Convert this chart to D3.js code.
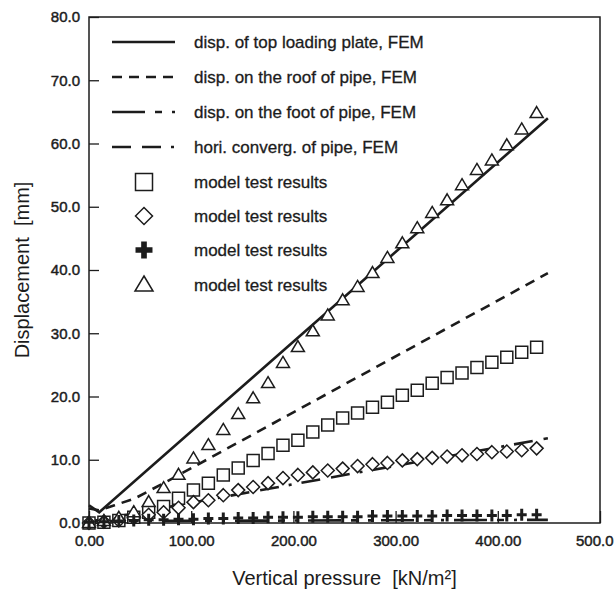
<!DOCTYPE html>
<html><head><meta charset="utf-8">
<script src="https://cdn.jsdelivr.net/npm/d3@7"></script>
<style>body{margin:0;background:#fff}svg{display:block}text{font-family:"Liberation Sans",Arial,sans-serif;fill:#1c1c1c}</style>
</head><body><div id="chart"></div>
<script>
// ---- data ----
const pressure = [0, 14.6, 29.2, 43.8, 58.4, 73, 87.6, 102.2, 116.8, 131.4, 146, 160.6, 175.2, 189.8, 204.4, 219, 233.6, 248.2, 262.8, 277.4, 292, 306.6, 321.2, 335.8, 350.4, 365, 379.6, 394.2, 408.8, 423.4, 438];
const testSquares = [0, 0.1, 0.4, 0.9, 1.7, 2.6, 3.9, 5.2, 6.3, 7.6, 8.7, 9.9, 11.0, 12.3, 13.1, 14.4, 15.5, 16.6, 17.4, 18.3, 19.1, 20.2, 21.0, 22.1, 23.0, 23.7, 24.6, 25.4, 26.2, 27.0, 27.8];
const testDiamonds = [0, 0.2, 0.4, 0.8, 1.3, 1.7, 2.4, 3.3, 3.6, 4.4, 5.2, 5.7, 6.3, 7.1, 7.6, 8.0, 8.3, 8.6, 9.0, 9.3, 9.5, 9.9, 10.1, 10.3, 10.5, 10.7, 10.9, 11.2, 11.3, 11.5, 11.8];
const testCrosses = [0.1, 0.2, 0.3, 0.4, 0.5, 0.5, 0.6, 0.6, 0.7, 0.7, 0.8, 0.8, 0.9, 0.9, 0.9, 1.0, 1.0, 1.0, 1.0, 1.1, 1.1, 1.1, 1.1, 1.1, 1.2, 1.2, 1.2, 1.2, 1.2, 1.3, 1.3];
const testTriangles = [0, 0.3, 0.8, 1.7, 3.3, 5.5, 7.6, 10.2, 12.3, 14.7, 17.2, 19.7, 22.1, 25.3, 27.8, 30.3, 32.8, 35.2, 37.3, 39.5, 41.9, 44.2, 46.6, 49.0, 51.0, 53.4, 55.8, 57.3, 59.7, 62.2, 64.8];

const topPlateX = [0, 10, 449];
const topPlateY = [2.8, 1.7, 64.0];
const roofX = [0, 10, 25, 45, 80, 449];
const roofY = [2.3, 2.0, 2.8, 3.9, 6.9, 39.5];
const footX = [0, 449];
const footY = [0.3, 0.5];
const horiX = [0, 50, 100, 449];
const horiY = [0.2, 1.7, 3.2, 13.4];

const xTicks = [0, 100, 200, 300, 400, 500];
const xTickLabels = ["0.00", "100.00", "200.00", "300.00", "400.00", "500.0"];
const yTicks = [0, 10, 20, 30, 40, 50, 60, 70, 80];
const yTickLabels = ["0.0", "10.0", "20.0", "30.0", "40.0", "50.0", "60.0", "70.0", "80.0"];

const legendLabels = ["disp. of top loading plate, FEM", "disp. on the roof of pipe, FEM", "disp. on the foot of pipe, FEM", "hori. converg. of pipe, FEM", "model test results", "model test results", "model test results", "model test results"];

// ---- layout ----
const W = 615, H = 589;
const L = 89, R = 600, T = 17, B = 523;
const ink = "#1c1c1c";
const svg = d3.select("#chart").append("svg").attr("width", W).attr("height", H);
const x = d3.scaleLinear().domain([0, 500]).range([L, R]);
const y = d3.scaleLinear().domain([0, 80]).range([B, T]);

// frame
svg.append("rect").attr("x", L).attr("y", T).attr("width", R - L).attr("height", B - T)
  .attr("fill", "none").attr("stroke", ink).attr("stroke-width", 1.5);

// axes
const yAxis = d3.axisLeft(y).tickValues(yTicks).tickFormat((d, i) => yTickLabels[i]).tickSizeInner(-10).tickSizeOuter(0).tickPadding(9);
const gy = svg.append("g").attr("transform", `translate(${L},0)`).call(yAxis);
gy.select(".domain").remove();
gy.selectAll("line").attr("stroke", ink).attr("stroke-width", 1.3);
gy.selectAll("text").attr("font-size", 15).attr("fill", ink).attr("stroke", ink).attr("stroke-width", 0.45)
  .attr("font-family", "Liberation Sans, Arial, sans-serif");

const xAxis = d3.axisBottom(x).tickValues(xTicks).tickFormat((d, i) => xTickLabels[i]).tickSizeInner(-12).tickSizeOuter(0).tickPadding(12);
const gx = svg.append("g").attr("transform", `translate(0,${B})`).call(xAxis);
gx.select(".domain").remove();
gx.selectAll("line").attr("stroke", ink).attr("stroke-width", 1.3);
gx.selectAll("text").attr("font-size", 15).attr("fill", ink).attr("stroke", ink).attr("stroke-width", 0.45)
  .attr("font-family", "Liberation Sans, Arial, sans-serif")
  .filter((d, i) => i === xTicks.length - 1).attr("text-anchor", "end").attr("x", 613 - x(500));

// titles
svg.append("text").attr("x", (L + R) / 2).attr("y", 585).attr("text-anchor", "middle")
  .attr("font-size", 20).attr("xml:space", "preserve").text("Vertical pressure  [kN/m²]");
svg.append("text").attr("transform", `translate(29,${(T + B) / 2}) rotate(-90)`).attr("text-anchor", "middle")
  .attr("font-size", 20).attr("xml:space", "preserve").text("Displacement  [mm]");

// FEM lines
const dashes = [null, "10,7", "33,10,7,10,3,10", "19,11,19,10,3,10"];
const fem = [[topPlateX, topPlateY], [roofX, roofY], [footX, footY], [horiX, horiY]];
const line = d3.line().x(d => x(d[0])).y(d => y(d[1]));
fem.forEach((s, i) => {
  const pts = s[0].map((v, j) => [v, s[1][j]]);
  svg.append("path").attr("d", line(pts)).attr("fill", "none").attr("stroke", ink)
    .attr("stroke-width", 2.6).attr("stroke-dasharray", dashes[i]);
});

// marker shapes
function sq(s) { return `M${-s/2},${-s/2}h${s}v${s}h${-s}Z`; }
function dia(s) { return `M0,${-s/2}L${s/2},0L0,${s/2}L${-s/2},0Z`; }
function tri(w, h) { return `M0,${-h*0.6}L${w/2},${h*0.4}L${-w/2},${h*0.4}Z`; }
function plus(w, h) { return `M${-w/2},0H${w/2}M0,${-h/2}V${h/2}`; }

function drawMarkers(vals, shape, opts) {
  svg.append("g").selectAll("path").data(pressure).join("path")
    .attr("transform", (d, i) => `translate(${x(d)},${y(vals[i])})`)
    .attr("d", shape).attr("fill", opts.fill || "#fff").attr("stroke", ink)
    .attr("stroke-width", opts.sw || 1.5);
}
drawMarkers(testSquares, sq(12), {});
drawMarkers(testDiamonds, dia(13), {});
drawMarkers(testTriangles, tri(13, 11), {});
drawMarkers(testCrosses, plus(10, 12), {fill: "none", sw: 3});

// legend
const rowY = [42, 77, 112, 147, 182, 216, 250, 285];
const lg = svg.append("g");
rowY.forEach((ry, i) => {
  if (i < 4) {
    lg.append("line").attr("x1", 112).attr("x2", 175).attr("y1", ry).attr("y2", ry)
      .attr("stroke", ink).attr("stroke-width", 2.6).attr("stroke-dasharray", dashes[i]);
  } else {
    let d, fill = "#fff", sw = 1.5;
    if (i === 4) d = sq(17);
    if (i === 5) d = dia(17);
    if (i === 6) { d = d3.symbol(d3.symbolCross, 160)(); fill = ink; sw = 0; }
    if (i === 7) d = tri(18, 15);
    lg.append("path").attr("transform", `translate(144,${ry})`).attr("d", d)
      .attr("fill", fill).attr("stroke", ink).attr("stroke-width", sw);
  }
  lg.append("text").attr("x", 194).attr("y", ry).attr("dy", "0.35em").attr("font-size", 17)
    .attr("stroke", ink).attr("stroke-width", 0.3)
    .text(legendLabels[i]);
});
</script></body></html>
